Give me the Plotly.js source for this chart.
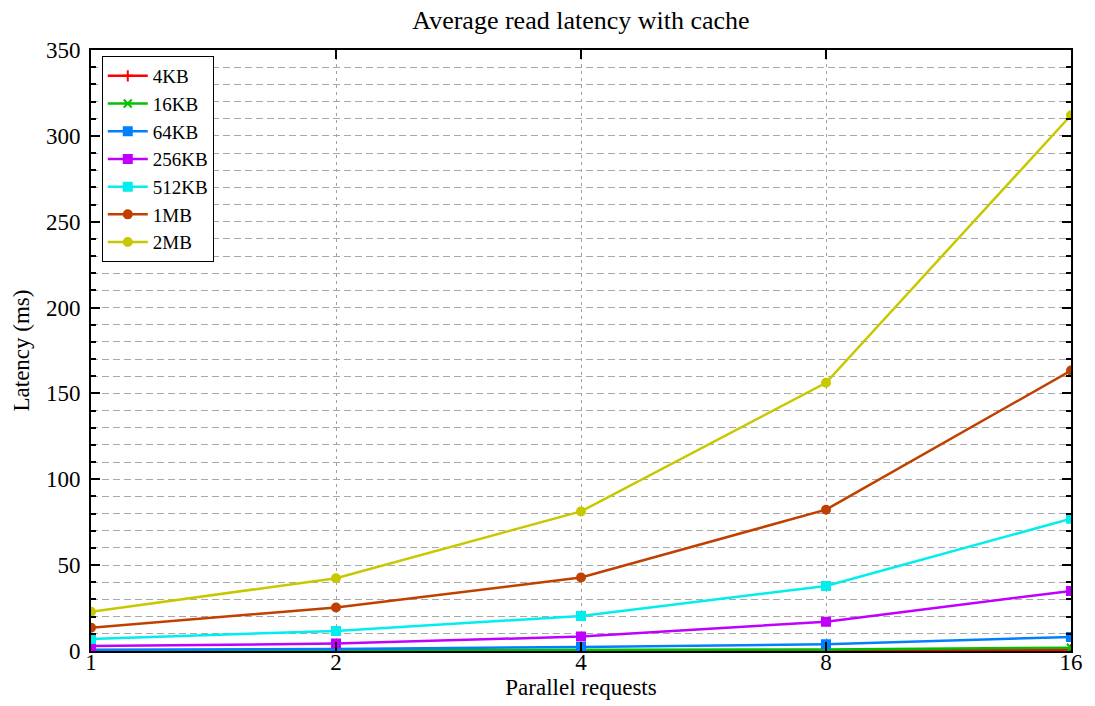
<!DOCTYPE html>
<html>
<head>
<meta charset="utf-8">
<script src="https://cdn.plot.ly/plotly-3.0.1.min.js"></script>
<style>html,body{margin:0;padding:0;background:#fff}#chart{width:1095px;height:706px}</style>
</head>
<body>
<div id="chart"></div>
<script>
const parallel = [1, 2, 4, 8, 16];
const seriesNames = ["4KB", "16KB", "64KB", "256KB", "512KB", "1MB", "2MB"];
const lat4KB   = [0.1, 0.15, 0.2, 0.3, 0.6];
const lat16KB  = [0.2, 0.3, 0.5, 0.9, 1.9];
const lat64KB  = [0.8, 1.2, 2.3, 3.9, 8.2];
const lat256KB = [2.9, 4.3, 8.4, 17.1, 35];
const lat512KB = [7, 11.7, 20.4, 37.9, 77];
const lat1MB   = [13.6, 25.3, 42.8, 82.3, 163.3];
const lat2MB   = [22.9, 42.4, 81.3, 156.2, 312];
const seriesValues = [lat4KB, lat16KB, lat64KB, lat256KB, lat512KB, lat1MB, lat2MB];
const colors = ["#ff0000", "#00c000", "#0080ff", "#c000ff", "#00eeee", "#c04000", "#c8c800"];
const symbols = ["cross-thin", "x-thin", "square", "square", "square", "circle", "circle"];
const xTicks = [1, 2, 4, 8, 16];

const font = "Liberation Serif, Times New Roman, serif";
const traces = seriesNames.map((n, i) => ({
  x: parallel, y: seriesValues[i], name: n, type: "scatter", mode: "lines+markers",
  line: {color: colors[i], width: 2.5},
  marker: {color: colors[i], symbol: symbols[i], size: 8,
           line: {color: colors[i], width: 2}}
}));

const layout = {
  width: 1095, height: 706,
  margin: {l: 91, r: 24, t: 50, b: 55},
  paper_bgcolor: "#fff", plot_bgcolor: "#fff",
  font: {family: font, size: 23, color: "#000"},
  title: {text: "Average read latency with cache", xref: "paper", x: 0.5, xanchor: "center", y: 0.972, yanchor: "middle",
          font: {family: font, size: 26, color: "#000"}},
  xaxis: {
    type: "log", range: [0, Math.log10(16)], tickvals: xTicks, ticktext: xTicks.map(String),
    showline: true, linecolor: "#000", linewidth: 2, mirror: "ticks",
    ticks: "inside", ticklen: 9, tickwidth: 2, tickcolor: "#000",
    showgrid: true, gridcolor: "#a0a0a0", gridwidth: 1, griddash: "3px,4px",
    zeroline: false, tickfont: {family: font, size: 23}, ticklabelstandoff: -11,
    title: {text: "Parallel requests", font: {family: font, size: 23}, standoff: 2}
  },
  yaxis: {
    range: [0, 350], dtick: 50, tick0: 0,
    showline: true, linecolor: "#000", linewidth: 2, mirror: "ticks",
    ticks: "inside", ticklen: 9, tickwidth: 2, tickcolor: "#000",
    showgrid: true, gridcolor: "#a8a8a8", gridwidth: 1, griddash: "7px,4px",
    minor: {dtick: 10, ticks: "inside", ticklen: 5, tickwidth: 2, tickcolor: "#000",
            showgrid: true, gridcolor: "#a8a8a8", gridwidth: 1, griddash: "7px,4px"},
    zeroline: false, tickfont: {family: font, size: 23}, ticklabelstandoff: 4,
    title: {text: "Latency (ms)", font: {family: font, size: 23}, standoff: 10}
  },
  showlegend: true,
  legend: {x: 0.011, y: 0.99, xanchor: "left", yanchor: "top", bgcolor: "#fff",
           bordercolor: "#000", borderwidth: 1, font: {family: font, size: 19},
           tracegroupgap: 0, itemwidth: 40}
};

Plotly.newPlot("chart", traces, layout, {displayModeBar: false, staticPlot: true});
</script>
</body>
</html>
